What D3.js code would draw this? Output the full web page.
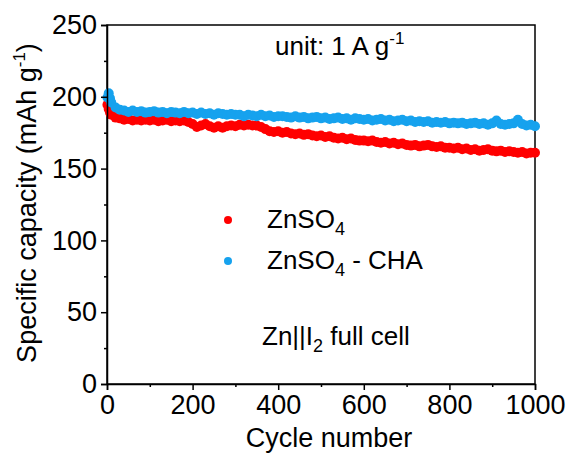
<!DOCTYPE html>
<html>
<head>
<meta charset="utf-8">
<script src="https://cdn.jsdelivr.net/npm/d3@7"></script>
<style>
  body { margin: 0; background: #fff; }
  svg text { font-family: "Liberation Sans", Arial, sans-serif; fill: #000; }
</style>
</head>
<body>
<div id="chart"></div>
<script>
// cycle numbers: a few early cycles, then every 10th
var cycles = [1, 4, 7].concat(d3.range(10, 1001, 10));

// ZnSO4 (red)
var znso4 = [194.5, 191.5, 189,
  187.5, 185.5, 185, 184, 184.5, 183.5, 184, 183.5, 184, 183.5,
  184, 183, 183.5, 184, 183, 183.5, 183, 183.5, 182.5, 181,
  179, 180, 181, 179.5, 178.5, 179.5, 178.5, 179.5, 180, 179.5,
  180.5, 180, 180.5, 180, 180, 179, 177.5, 176, 175.5, 176,
  175, 175.5, 174.5, 174, 174.5, 173.5, 174, 173, 172.5, 173,
  172, 172.5, 171.5, 171, 171.5, 170.5, 171, 170, 169.5, 169.5,
  169, 169.5, 168.5, 168, 168.5, 167.5, 168, 167, 167.5, 166.5,
  166, 166.5, 165.5, 166, 166.5, 165.5, 165, 165.5, 164.5, 164.5,
  164, 164.5, 163.5, 164, 163, 163.5, 162.5, 163, 163.5, 162.5,
  162, 162.5, 161.5, 162, 161.5, 161, 161.5, 160.5, 161, 161];

// ZnSO4 - CHA (blue)
var znso4Cha = [199.5, 202.5, 199,
  196, 192.5, 191, 190.5, 189.5, 190.5, 189.5, 190, 189, 189.5,
  190, 189, 189.5, 188.5, 189.5, 189, 188.5, 189.5, 188.5, 189,
  188, 189, 188, 188.5, 187.5, 188.5, 188, 187.5, 188, 187.5,
  187.5, 186.5, 187.5, 187, 186.5, 187.5, 186.5, 187, 186, 186.5,
  186.5, 186, 185.5, 186.5, 185.5, 186, 185, 185.5, 186, 185,
  185.5, 184.5, 185, 185.5, 184.5, 185, 184, 185, 184.5, 184,
  184.5, 183.5, 184, 184.5, 183.5, 184, 183, 183.5, 184, 183,
  183.5, 182.5, 183, 182.5, 183, 182, 182.5, 182, 182.5, 181.5,
  182, 181.5, 182, 181, 181.5, 182, 181, 181.5, 180.5, 181.5,
  183.5, 181, 180.5, 181, 181.5, 184, 181, 180, 180.5, 179.5];

var xTicks = [0, 200, 400, 600, 800, 1000];
var xMinor = [100, 300, 500, 700, 900];
var yTicks = [0, 50, 100, 150, 200, 250];
var yMinor = [25, 75, 125, 175, 225];

var width = 571, height = 455;
var margin = {top: 25, right: 36, bottom: 71, left: 107};

var svg = d3.select("#chart").append("svg")
  .attr("width", width)
  .attr("height", height);

var x = d3.scaleLinear()
  .domain([0, 1000])
  .range([margin.left, width - margin.right]);

var y = d3.scaleLinear()
  .domain([0, 250])
  .range([height - margin.bottom, margin.top]);

// frame
svg.append("rect")
  .attr("x", x(0))
  .attr("y", y(250))
  .attr("width", x(1000) - x(0))
  .attr("height", y(0) - y(250))
  .attr("fill", "none")
  .attr("stroke", "#000")
  .attr("stroke-width", 1.5);

// data points
var red = cycles.map(function (c, i) { return {c: c, v: znso4[i]}; });
var blue = cycles.map(function (c, i) { return {c: c, v: znso4Cha[i]}; });

svg.append("g").selectAll("circle")
  .data(red)
  .enter().append("circle")
  .attr("cx", function (d) { return x(d.c); })
  .attr("cy", function (d) { return y(d.v); })
  .attr("r", 5)
  .attr("fill", "#ff0000");

svg.append("g").selectAll("circle")
  .data(blue)
  .enter().append("circle")
  .attr("cx", function (d) { return x(d.c); })
  .attr("cy", function (d) { return y(d.v); })
  .attr("r", 5)
  .attr("fill", "#16a2ee");

// axes
svg.append("g")
  .attr("transform", "translate(0," + y(0) + ")")
  .call(d3.axisBottom(x).tickValues(xTicks).tickSize(6).tickPadding(5).tickFormat(d3.format("d")));
svg.append("g")
  .attr("transform", "translate(0," + y(0) + ")")
  .call(d3.axisBottom(x).tickValues(xMinor).tickSize(3).tickFormat(""))
  .select(".domain").remove();

svg.append("g")
  .attr("transform", "translate(" + x(0) + ",0)")
  .call(d3.axisLeft(y).tickValues(yTicks).tickSize(6).tickPadding(4));
svg.append("g")
  .attr("transform", "translate(" + x(0) + ",0)")
  .call(d3.axisLeft(y).tickValues(yMinor).tickSize(3).tickFormat(""))
  .select(".domain").remove();

svg.selectAll(".tick line").attr("stroke-width", 1.5);
svg.selectAll(".domain").attr("stroke-width", 1.5);
svg.selectAll(".tick text")
  .style("font-family", "Liberation Sans, Arial, sans-serif")
  .style("font-size", "27px");

// axis titles
svg.append("text")
  .attr("x", 329)
  .attr("y", 447)
  .attr("text-anchor", "middle")
  .style("font-size", "27px")
  .text("Cycle number");

var yt = svg.append("text")
  .attr("transform", "translate(36,203) rotate(-90)")
  .attr("text-anchor", "middle")
  .style("font-size", "27px");
yt.append("tspan").text("Specific capacity (mAh g");
yt.append("tspan").attr("dy", -11).style("font-size", "17px").text("-1");
yt.append("tspan").attr("dy", 11).text(")");

// annotations
var unit = svg.append("text")
  .attr("x", 275)
  .attr("y", 55)
  .style("font-size", "26px");
unit.append("tspan").text("unit: 1 A g");
unit.append("tspan").attr("dy", -11).style("font-size", "17px").text("-1");

var cell = svg.append("text")
  .attr("x", 262)
  .attr("y", 345)
  .style("font-size", "26px");
cell.append("tspan").text("Zn||I");
cell.append("tspan").attr("dy", 7).style("font-size", "18px").text("2");
cell.append("tspan").attr("dy", -7).text(" full cell");

// legend
var legend = [
  {name: "ZnSO", sub: "4", rest: "", color: "#ff0000", y: 220},
  {name: "ZnSO", sub: "4", rest: " - CHA", color: "#16a2ee", y: 261}
];

legend.forEach(function (d) {
  svg.append("circle")
    .attr("cx", 228)
    .attr("cy", d.y)
    .attr("r", 4)
    .attr("fill", d.color);
  var t = svg.append("text")
    .attr("x", 267)
    .attr("y", d.y + 8)
    .style("font-size", "26px");
  t.append("tspan").text(d.name);
  t.append("tspan").attr("dy", 7).style("font-size", "18px").text(d.sub);
  if (d.rest) t.append("tspan").attr("dy", -7).text(d.rest);
});
</script>
</body>
</html>
